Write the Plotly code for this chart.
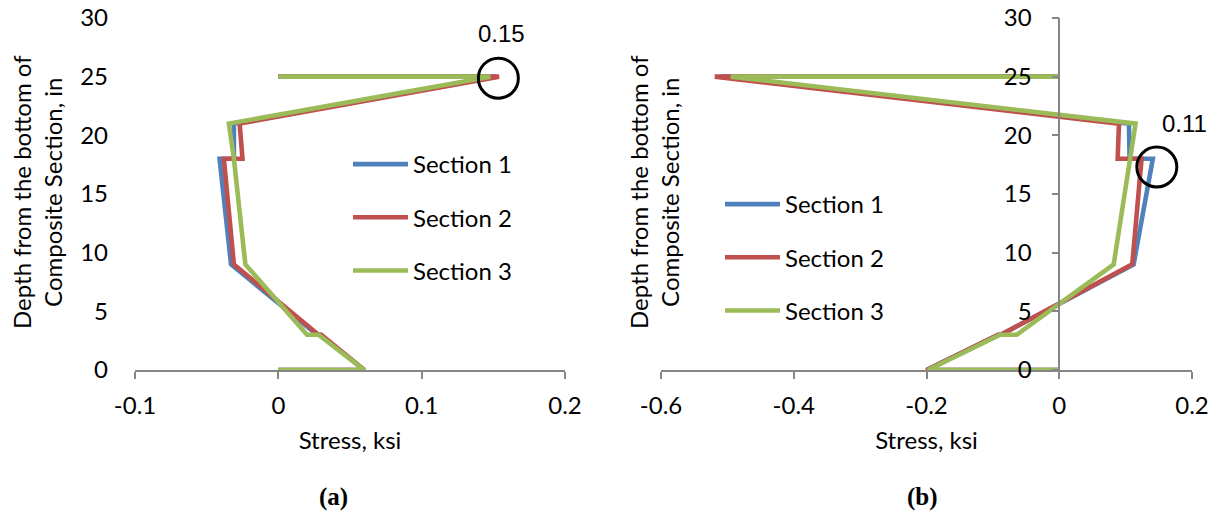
import plotly.graph_objects as go

# ---------------- data ----------------
depth = [0, 0, 3, 3, 9, 18, 18, 21, 25, 25]

# (a)
sec1_a = [0, 0.060, 0.029, 0.027, -0.033, -0.041, -0.031, -0.031, 0.152, 0]
sec2_a = [0, 0.060, 0.030, 0.028, -0.031, -0.038, -0.025, -0.027, 0.154, 0]
sec3_a = [0, 0.060, 0.028, 0.020, -0.023, -0.031, -0.031, -0.0345, 0.148, 0]

# (b)
sec1_b = [0, -0.200, -0.092, -0.088, 0.112, 0.141, 0.106, 0.105, -0.510, 0]
sec2_b = [0, -0.200, -0.092, -0.088, 0.110, 0.124, 0.088, 0.090, -0.519, 0]
sec3_b = [0, -0.198, -0.089, -0.064, 0.082, 0.106, 0.106, 0.115, -0.495, 0]

names = ["Section 1", "Section 2", "Section 3"]
colors = ["#4F81BD", "#C0504D", "#9BBB59"]

xticks_a = [-0.1, 0, 0.1, 0.2]
xticks_b = [-0.6, -0.4, -0.2, 0, 0.2]
yticks = [0, 5, 10, 15, 20, 25, 30]

W, H = 1221, 520
FONT = "Lato"
FS = 24
AX = "#868686"

def px(v):
    return v / W

def py(v):
    return 1 - v / H

fig = go.Figure()

for name, col, xs in zip(names, colors, [sec1_a, sec2_a, sec3_a]):
    fig.add_trace(go.Scatter(x=xs, y=depth, mode="lines", name=name,
                             line=dict(color=col, width=4.6),
                             xaxis="x", yaxis="y", legend="legend",
                             legendgroup=name + "a"))
for name, col, xs in zip(names, colors, [sec1_b, sec2_b, sec3_b]):
    fig.add_trace(go.Scatter(x=xs, y=depth, mode="lines", name=name,
                             line=dict(color=col, width=4.6),
                             xaxis="x2", yaxis="y2", legend="legend2",
                             legendgroup=name + "b"))

ydom = [py(370), py(18)]
xa0, xa1 = 135, 565
xb0, xb1 = 661, 1192
x0_a = xa0 + (0 - (-0.1)) / 0.3 * (xa1 - xa0)
x0_b = xb0 + (0 - (-0.6)) / 0.8 * (xb1 - xb0)

tickfont = dict(family=FONT, size=FS, color="black")

common_x = dict(showline=True, linecolor=AX, linewidth=1.5,
                ticks="outside", ticklen=7, tickcolor=AX, tickwidth=1.5,
                showgrid=False, zeroline=False, tickfont=tickfont,
                ticklabelstandoff=6, automargin=False,
                ticklabeloverflow="allow")

fig.update_layout(
    width=W, height=H,
    margin=dict(l=0, r=0, t=0, b=0, autoexpand=False),
    paper_bgcolor="white", plot_bgcolor="white",
    font=dict(family=FONT, size=FS, color="black"),
    xaxis=dict(domain=[px(xa0), px(xa1)], range=[-0.1, 0.2], anchor="y",
               tickvals=xticks_a, ticktext=[f"{v:g}" for v in xticks_a],
               title=dict(text="Stress, ksi", standoff=15,
                          font=dict(family=FONT, size=FS)),
               **common_x),
    yaxis=dict(domain=ydom, range=[0, 30], anchor="free", position=px(108),
               tickvals=yticks, showline=False, ticks="", showgrid=False,
               zeroline=False, tickfont=tickfont, automargin=False,
               ticklabeloverflow="allow"),
    yaxis3=dict(domain=ydom, range=[0, 30], anchor="free", overlaying="y",
                position=px(x0_a), tickvals=yticks, showline=True,
                linecolor=AX, linewidth=1.5, ticks="outside", ticklen=7,
                tickcolor=AX, tickwidth=1.5, showticklabels=False,
                showgrid=False, zeroline=False, automargin=False),
    xaxis2=dict(domain=[px(xb0), px(xb1)], range=[-0.6, 0.2], anchor="y2",
                tickvals=xticks_b, ticktext=[f"{v:g}" for v in xticks_b],
                title=dict(text="Stress, ksi", standoff=15,
                           font=dict(family=FONT, size=FS)),
                **common_x),
    yaxis2=dict(domain=ydom, range=[0, 30], anchor="free", position=px(x0_b),
                tickvals=yticks, showline=True, linecolor=AX, linewidth=1.5,
                ticks="outside", ticklen=7, tickcolor=AX, tickwidth=1.5,
                showgrid=False, zeroline=False, tickfont=tickfont,
                ticklabelstandoff=15, automargin=False,
                ticklabeloverflow="allow"),
    legend=dict(x=px(348), y=py(142), xanchor="left", yanchor="top",
                bgcolor="rgba(0,0,0,0)", itemwidth=55, tracegroupgap=19,
                font=dict(family=FONT, size=FS)),
    legend2=dict(x=px(720), y=py(182), xanchor="left", yanchor="top",
                 bgcolor="rgba(0,0,0,0)", itemwidth=55, tracegroupgap=19,
                 font=dict(family=FONT, size=FS)),
    showlegend=True,
)

ytitle = "Depth from the bottom of<br>Composite Section, in"
for xc in (37, 654):
    fig.add_annotation(xref="paper", yref="paper", x=px(xc), y=py(192),
                       xanchor="center", yanchor="middle",
                       text=ytitle, textangle=-90, showarrow=False,
                       font=dict(family=FONT, size=FS), align="center")

# callouts
fig.add_shape(type="circle", xref="x", yref="y", xsizemode="pixel",
              ysizemode="pixel", xanchor=0.1535, yanchor=24.87,
              x0=-20, x1=20, y0=-20, y1=20, line=dict(color="black", width=3))
fig.add_annotation(xref="x", yref="y", x=0.156, y=28.7, text="0.15",
                   showarrow=False, xanchor="center", yanchor="middle",
                   font=dict(family="Liberation Sans", size=24, color="black"))
fig.add_shape(type="circle", xref="x2", yref="y2", xsizemode="pixel",
              ysizemode="pixel", xanchor=0.147, yanchor=17.3,
              x0=-20, x1=20, y0=-20, y1=20, line=dict(color="black", width=3))
fig.add_annotation(xref="x2", yref="y2", x=0.188, y=21.0, text="0.11",
                   showarrow=False, xanchor="center", yanchor="middle",
                   font=dict(family="Liberation Sans", size=24, color="black"))

for lab, xc in (("(a)", 333), ("(b)", 922)):
    fig.add_annotation(xref="paper", yref="paper", x=px(xc), y=py(497),
                       xanchor="center", yanchor="middle",
                       text=f"<b>{lab}</b>", showarrow=False,
                       font=dict(family="Liberation Serif", size=25,
                                 color="black"))

# remove the default 8px page margin so the figure fills the window exactly
fig.write_html("out.html",
               config={"displayModeBar": False},
               post_script="document.body.style.margin='0';"
                           "document.body.style.overflow='hidden';")
